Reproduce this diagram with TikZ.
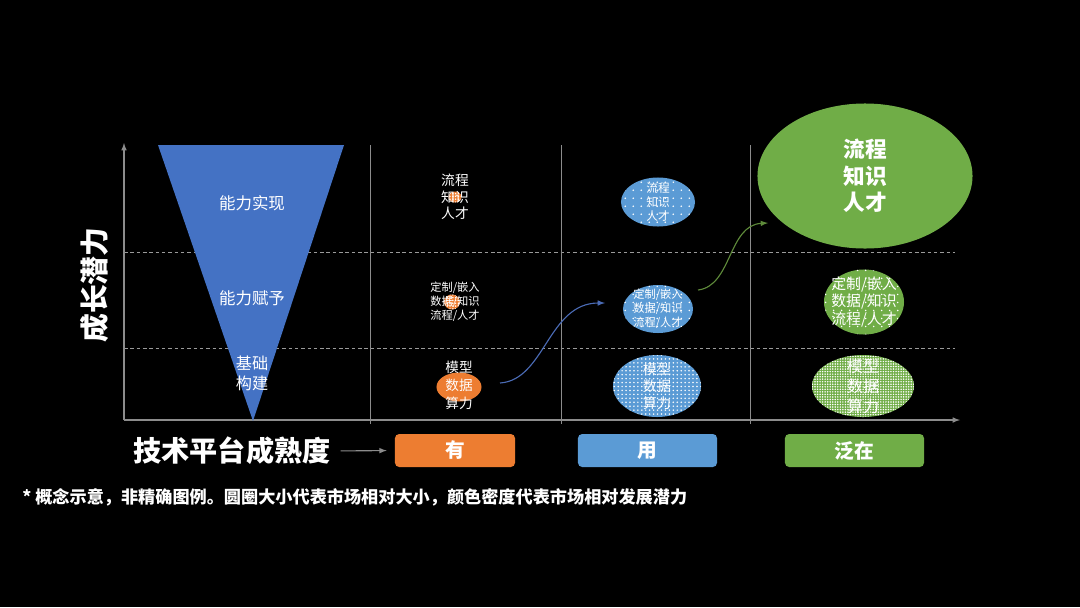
\documentclass[tikz,border=0pt]{standalone}
\usepackage{fontspec}
\setmainfont{Noto Sans CJK SC}
\usetikzlibrary{shapes.geometric,patterns.meta}
\definecolor{cblue}{HTML}{5B9BD5}
\definecolor{cgreen}{HTML}{70AD47}
\definecolor{corange}{HTML}{ED7D31}
\definecolor{ctri}{HTML}{4472C4}
\definecolor{caxis}{HTML}{8C8C8C}
\definecolor{cdash}{HTML}{9A9A9A}
\definecolor{carrowb}{HTML}{4A6BB5}
\definecolor{carrowg}{HTML}{5E8A3A}

\begin{document}
\begin{tikzpicture}[x=0.025cm,y=-0.025cm,>=latex,
  lbl/.style={text=white, align=center, inner sep=0pt},
  blob/.style={ellipse, inner sep=0pt},
  dotblob/.style 2 args={blob, preaction={fill=#1}, pattern={Dots[distance=#2, radius=0.6pt]}, pattern color=white},
  tag/.style={rounded corners=3pt, minimum width=3.475cm, minimum height=0.825cm, text=white, font=\fontsize{14pt}{16pt}\selectfont\bfseries}]
  \fill[black] (0,0) rectangle (1080,607);
  \useasboundingbox (0,0) rectangle (1080,607);

  \foreach \y in {252,348}
    \draw[cdash, line width=0.6pt, dash pattern=on 2.5pt off 2pt] (124,\y) -- (955,\y);
  \foreach \x in {370,561,750}
    \draw[caxis, line width=0.7pt] (\x,145) -- (\x,424);
  \draw[caxis, line width=0.8pt, ->] (124,420) -- (124,143);
  \draw[caxis, line width=0.8pt, ->] (124,420) -- (960,420);

  \fill[ctri] (158,145) -- (344,145) -- (253,421) -- cycle;
  \node[lbl, font=\fontsize{11.7pt}{14pt}\selectfont] (t1) at (252,203) {能力实现};
  \node[lbl, font=\fontsize{11.7pt}{14pt}\selectfont] (t2) at (252,298) {能力赋予};
  \node[lbl, font=\fontsize{11.5pt}{14.2pt}\selectfont] (t3) at (252,373) {基础\\构建};
  \node[lbl, rotate=90, font=\fontsize{20.5pt}{24pt}\selectfont\bfseries] (ylab) at (95,285) {成长潜力};

  \node[dotblob={corange}{2pt}, minimum width=0.325cm, minimum height=0.275cm] (o3) at (455,197) {};
  \node[lbl, font=\fontsize{9.8pt}{11.8pt}\selectfont] (o3t) at (455,197) {流程\\知识\\人才};
  \node[dotblob={corange}{2pt}, minimum width=0.4cm, minimum height=0.375cm] (o2) at (452,302) {};
  \node[lbl, font=\fontsize{8pt}{9.9pt}\selectfont] (o2t) at (455,302) {定制/嵌入\\数据/知识\\流程/人才};
  \node[blob, fill=corange, minimum width=1.125cm, minimum height=0.725cm] (o1) at (459,387) {};
  \node[lbl, font=\fontsize{9.7pt}{12.8pt}\selectfont] (o1t) at (459,385) {模型\\数据\\算力};

  \node[dotblob={cblue}{5.7pt}, minimum width=1.85cm, minimum height=1.225cm] (b1) at (658,202) {};
  \node[lbl, font=\fontsize{8.3pt}{9.9pt}\selectfont] (b1t) at (b1) {流程\\知识\\人才};
  \node[dotblob={cblue}{5.7pt}, minimum width=1.75cm, minimum height=1.2cm] (b2) at (658,309) {};
  \node[lbl, font=\fontsize{8pt}{9.9pt}\selectfont] (b2t) at (b2) {定制/嵌入\\数据/知识\\流程/人才};
  \node[dotblob={cblue}{2.8pt}, minimum width=2.2cm, minimum height=1.55cm] (b3) at (657,386) {};
  \node[lbl, font=\fontsize{10pt}{12pt}\selectfont] (b3t) at (b3) {模型\\数据\\算力};

  \node[blob, fill=cgreen, minimum width=5.375cm, minimum height=3.625cm] (g1) at (865,176) {};
  \node[lbl, font=\fontsize{15.4pt}{19pt}\selectfont\bfseries] (g1t) at (g1) {流程\\知识\\人才};
  \node[dotblob={cgreen}{5.7pt}, minimum width=2.0cm, minimum height=1.625cm] (g2) at (864,302) {};
  \node[lbl, font=\fontsize{10.6pt}{12.4pt}\selectfont] (g2t) at (g2) {定制/嵌入\\数据/知识\\流程/人才};
  \node[dotblob={cgreen}{1.8pt}, minimum width=2.55cm, minimum height=1.55cm] (g3) at (863,386) {};
  \node[lbl, font=\fontsize{11.5pt}{14.2pt}\selectfont] (g3t) at (g3) {模型\\数据\\算力};

  \coordinate (a1) at (500,383);
  \coordinate (a2) at (605,303);
  \coordinate (a3) at (698,290);
  \coordinate (a4) at (768,223);
  \draw[carrowb, line width=0.8pt, ->] (a1) .. controls (545,380) and (548,303) .. (a2);
  \draw[carrowg, line width=0.8pt, ->] (a3) .. controls (732,286) and (728,225) .. (a4);

  \node[lbl, font=\fontsize{20pt}{24pt}\selectfont\bfseries] (xlab) at (232,451) {技术平台成熟度};
  \node[tag, fill=corange, minimum width=3.0cm] (bx1) at (455,450.5) {有};
  \node[tag, fill=cblue] (bx2) at (647.5,450.5) {用};
  \node[tag, fill=cgreen] (bx3) at (854.5,450.5) {泛在};
  \draw[caxis, line width=0.8pt, ->, shorten <=0.25cm, shorten >=0.2cm] (xlab.east) -- (bx1.west);

  \node[lbl, anchor=west, font=\fontsize{12.2pt}{14pt}\selectfont\bfseries] (note) at (22,497) {* 概念示意，非精确图例。圆圈大小代表市场相对大小，颜色密度代表市场相对发展潜力};
\end{tikzpicture}
\end{document}
